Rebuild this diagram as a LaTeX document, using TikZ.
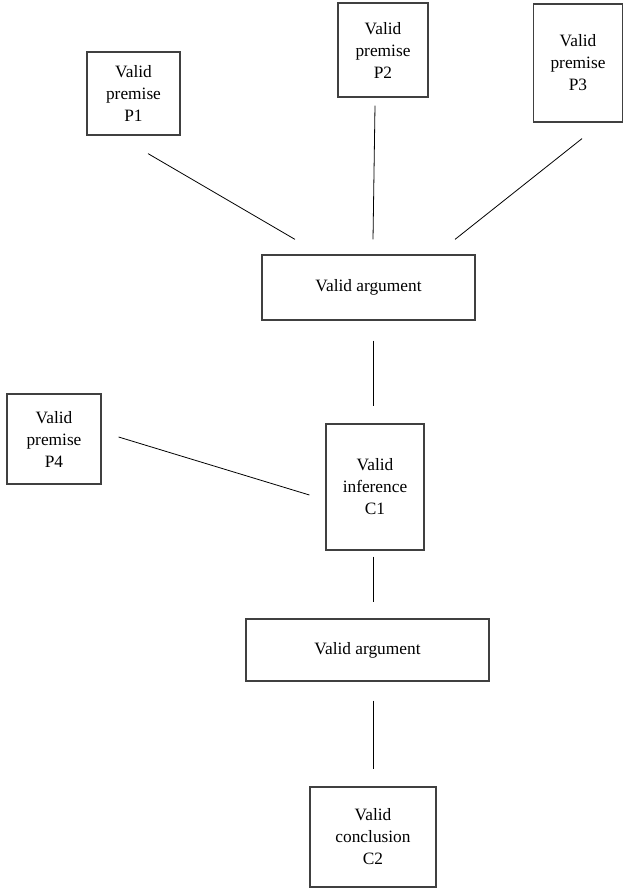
\documentclass[tikz,border=0pt]{standalone}
\usepackage{fontspec}
\setmainfont{Liberation Serif}
\begin{document}
\begin{tikzpicture}[
        x=0.75pt, y=-0.75pt,
        box/.style={draw=black!75, line width=0.9pt, inner sep=0pt, align=center,
            font=\fontsize{13}{16.5}\selectfont},
        link/.style={line width=0.6pt},
    ]
    \useasboundingbox (0, 0) rectangle (623, 895);

    \node[box, minimum width=69.75pt, minimum height=62.25pt] (p1) at (133.5, 93.5) {Valid\\premise\\P1};
    \node[box, minimum width=67.5pt, minimum height=70.5pt] (p2) at (383, 50) {Valid\\premise\\P2};
    \node[box, minimum width=66.75pt, minimum height=88.5pt] (p3) at (578, 63) {Valid\\premise\\P3};
    \node[box, minimum width=159.75pt, minimum height=48.75pt] (arg1) at (368.5, 287.5) {Valid argument};
    \node[box, minimum width=70.5pt, minimum height=67.5pt] (p4) at (54, 439) {Valid\\premise\\P4};
    \node[box, minimum width=73.5pt, minimum height=94.5pt] (c1) at (375, 487) {Valid\\inference\\C1};
    \node[box, minimum width=182.25pt, minimum height=46.5pt] (arg2) at (367.5, 650) {Valid argument};
    \node[box, minimum width=94.5pt, minimum height=75pt] (c2) at (373, 837) {Valid\\conclusion\\C2};

    \draw[link] ([shift={(14.5, 18)}]p1.south) -- ([shift={(-73.5, -15)}]arg1.north);
    \draw[link] ([shift={(-8, 8)}]p2.south) -- ([shift={(4.5, -15)}]arg1.north);
    \draw[link] ([shift={(4, 16)}]p3.south) -- ([shift={(86.5, -15)}]arg1.north);
    \draw[link] ([shift={(4.5, 20)}]arg1.south) -- ([shift={(-2, -17)}]c1.north);
    \draw[link] ([shift={(17, -2)}]p4.east) -- ([shift={(-16, 8)}]c1.west);
    \draw[link] ([shift={(-2, 6)}]c1.south) -- ([shift={(5.5, -16)}]arg2.north);
    \draw[link] ([shift={(5.5, 19)}]arg2.south) -- ([shift={(0, -17)}]c2.north);
\end{tikzpicture}
\end{document}
